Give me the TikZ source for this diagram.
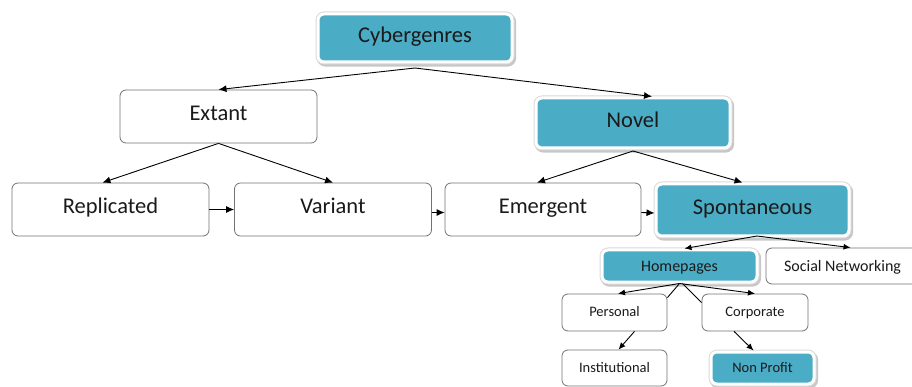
\documentclass[tikz,border=0pt]{standalone}
\usepackage{fontspec}
\setmainfont{Carlito}
\usetikzlibrary{arrows.meta}
\definecolor{cyanbox}{HTML}{4BACC6}
\definecolor{boxtext}{HTML}{1A1A1A}
\begin{document}
\begin{tikzpicture}[x=1pt,y=-1pt,
  box/.style={rectangle, rounded corners=6pt, draw=black!55, line width=0.8pt, fill=white, inner sep=0pt, text=boxtext},
  fbox/.style={rectangle, rounded corners=6pt, fill=cyanbox, draw=white, line width=3pt, inner sep=0pt, text=boxtext,
    preaction={draw=black!22, line width=5.2pt, transform canvas={xshift=1.5pt,yshift=-2pt}},
    preaction={draw=black!15, line width=5pt}},
  big/.style={font=\fontsize{22.5}{27}\selectfont, text height=15pt, text depth=6pt},
  mid/.style={font=\fontsize{16}{19}\selectfont, text height=14pt, text depth=3pt},
  small/.style={font=\fontsize{14.5}{17}\selectfont, text height=11pt, text depth=3pt},
  arr/.style={-{Latex[length=8pt,width=7pt]}, line width=0.9pt, black},
  sarr/.style={-{Latex[length=7pt,width=6pt]}, line width=0.9pt, black},
  ln/.style={line width=0.9pt, black}]
\useasboundingbox (0,0) rectangle (912,387);

\node[fbox, big, minimum width=194pt, minimum height=48pt] (cyber) at (415,38) {Cybergenres};
\node[box, big, minimum width=197pt, minimum height=53pt] (extant) at (218.5,116.5) {Extant};
\node[fbox, big, minimum width=194pt, minimum height=50pt] (novel) at (633,123) {Novel};
\node[box, big, minimum width=197pt, minimum height=53pt] (repl) at (110.5,209.5) {Replicated};
\node[box, big, minimum width=197pt, minimum height=53pt] (variant) at (333,209.5) {Variant};
\node[box, big, minimum width=196pt, minimum height=53pt] (emergent) at (543,209.5) {Emergent};
\node[fbox, big, minimum width=193pt, minimum height=52pt] (spont) at (752.5,210) {Spontaneous};
\node[fbox, mid, minimum width=155pt, minimum height=32pt] (home) at (679.5,266) {Homepages};
\node[box, mid, minimum width=153pt, minimum height=36pt] (social) at (842.5,266) {Social Networking};
\node[box, small, minimum width=105pt, minimum height=37pt] (personal) at (614.5,312.5) {Personal};
\node[box, small, minimum width=106pt, minimum height=37pt] (corporate) at (755,312.5) {Corporate};
\node[box, small, minimum width=105pt, minimum height=36pt] (inst) at (614.5,368) {Institutional};
\node[fbox, small, minimum width=103pt, minimum height=32pt] (nonprofit) at (762.5,368) {Non Profit};

\draw[arr] ([yshift=-4.5pt]cyber.south) -- (extant.north);
\draw[arr] ([yshift=-4.5pt]cyber.south) -- ([xshift=19pt]novel.north);
\draw[arr] (extant.south) -- ([xshift=-8pt]repl.north);
\draw[arr] (extant.south) -- (variant.north);
\draw[arr] ([yshift=-1.5pt]novel.south) -- ([xshift=-6pt]emergent.north);
\draw[arr] ([yshift=-1.5pt]novel.south) -- ([xshift=-10pt]spont.north);
\draw[arr] (repl.east) -- (variant.west);
\draw[arr] ([yshift=-3pt]variant.east) -- ([yshift=-3pt]emergent.west);
\draw[arr] ([yshift=-3pt]emergent.east) -- ([yshift=-3pt]spont.west);
\draw[sarr] ([xshift=4.5pt,yshift=1.5pt]spont.south) -- ([xshift=5pt]home.north);
\draw[sarr] ([xshift=4.5pt,yshift=1.5pt]spont.south) -- ([xshift=8pt]social.north);
\draw[sarr] (home.south) -- ([xshift=3.5pt]personal.north);
\draw[sarr] (home.south) -- (corporate.north);
\draw[ln] (home.south) -- ([yshift=-4pt]personal.north east);
\draw[ln] ([xshift=3pt]home.south) -- ([yshift=-9pt]corporate.north west);
\draw[sarr] ([xshift=20pt]personal.south) -- ([xshift=4pt]inst.north);
\draw[sarr] ([xshift=-21pt]corporate.south) -- ([xshift=-9pt]nonprofit.north);
\end{tikzpicture}
\end{document}
